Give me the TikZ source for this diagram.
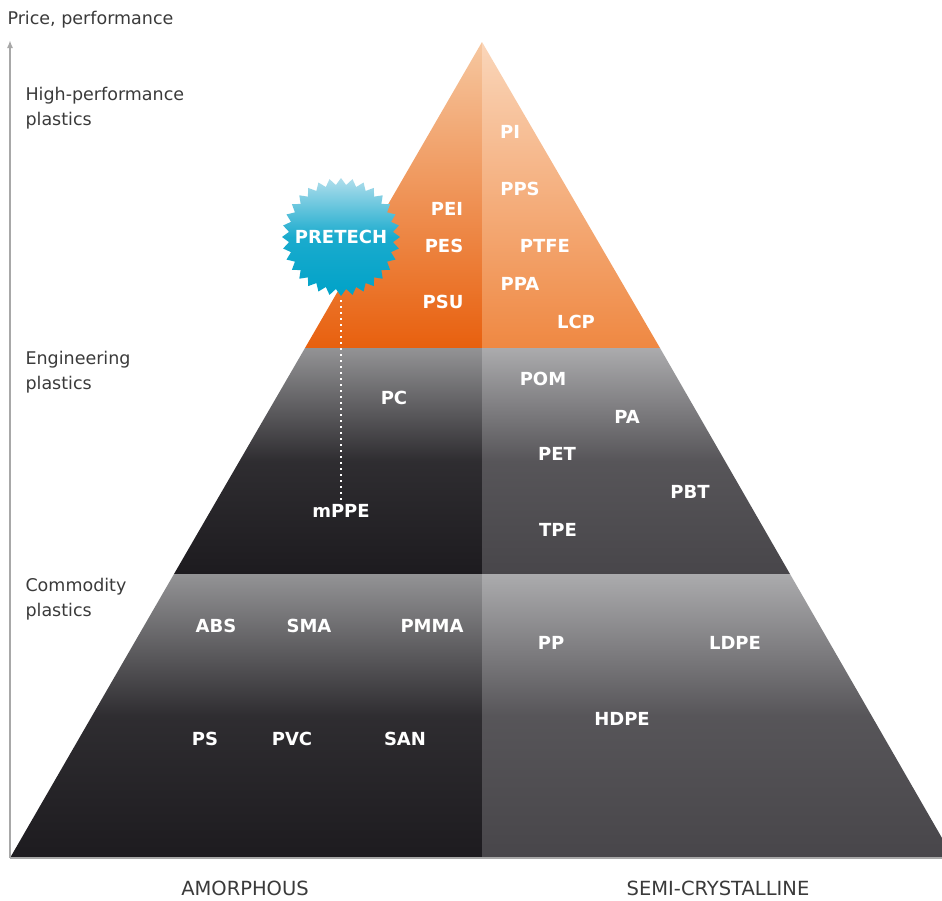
\documentclass[tikz,border=0pt]{standalone}
\usepackage{fontspec}
\setmainfont{DejaVu Sans}
\usetikzlibrary{arrows.meta,shapes.geometric}
\definecolor{orgLtop}{HTML}{F6C7A0}
\definecolor{orgLbot}{HTML}{E8600E}
\definecolor{orgRtop}{HTML}{FAD6BA}
\definecolor{orgRbot}{HTML}{EF8842}
\definecolor{grLtop}{HTML}{939395}
\definecolor{grLbot}{HTML}{1D1B1F}
\definecolor{grRtop}{HTML}{ABABAD}
\definecolor{grRbot}{HTML}{48464A}
\definecolor{starTop}{HTML}{B0DEEC}
\definecolor{starBot}{HTML}{00A2C8}
\definecolor{axisGray}{HTML}{A8A8A8}
\definecolor{textGray}{HTML}{3A3A3A}
\tikzset{
  lbl/.style={text=white,font=\bfseries\fontsize{18}{18}\selectfont},
  side/.style={text=textGray,font=\fontsize{17.5}{25}\selectfont,align=left,anchor=west},
  kind/.style={text=textGray,font=\fontsize{19.5}{20}\selectfont},
  darkL/.style={top color=grLtop,bottom color=grLbot,middle color=grLbot!85!grLtop},
  darkR/.style={top color=grRtop,bottom color=grRbot,middle color=grRbot!85!grRtop}
}

\begin{document}
\begin{tikzpicture}[x=1pt,y=-1pt]
    \useasboundingbox (0,0) rectangle (942,900);
    % tiers
    \shade[top color=orgLtop,bottom color=orgLbot] (482,42) -- (482,348) -- (305,348) -- cycle;
    \shade[top color=orgRtop,bottom color=orgRbot] (482,42) -- (660,348) -- (482,348) -- cycle;
    \shade[darkL] (305,348) -- (482,348) -- (482,574) -- (174,574) -- cycle;
    \shade[darkR] (482,348) -- (660,348) -- (790,574) -- (482,574) -- cycle;
    \shade[darkL] (174,574) -- (482,574) -- (482,858) -- (10,858) -- cycle;
    \shade[darkR] (482,574) -- (790,574) -- (942,838) -- (942,858) -- (482,858) -- cycle;

    % axis
    \coordinate (o) at (10,858);
    \coordinate (top) at (10,40);
    \coordinate (end) at (942,858);
    \draw[axisGray,line width=1.6pt,-{Latex[length=8pt,width=6pt]}] (o) -- (top);
    \draw[axisGray,line width=1.2pt] (o) -- (end);

    \node[side] (axis) at (4,20) {Price, performance};
    \node[side] (high) at (22,108) {High-performance\\plastics};
    \node[side] (eng) at (22,372) {Engineering\\plastics};
    \node[side] (com) at (22,599) {Commodity\\plastics};
    \node[kind] (amo) at (245,888) {AMORPHOUS};
    \node[kind] (semi) at (718,888) {SEMI-CRYSTALLINE};

    % high-performance
    \node[lbl] (pi) at (510,132) {PI};
    \node[lbl] (pps) at (520,189) {PPS};
    \node[lbl] (pei) at (447,209) {PEI};
    \node[lbl] (pes) at (444,246) {PES};
    \node[lbl] (ptfe) at (545,246) {PTFE};
    \node[lbl] (ppa) at (520,284) {PPA};
    \node[lbl] (psu) at (443,302) {PSU};
    \node[lbl] (lcp) at (576,322) {LCP};

    % engineering
    \node[lbl] (pom) at (543,379) {POM};
    \node[lbl] (pc) at (394,398) {PC};
    \node[lbl] (pa) at (627,417) {PA};
    \node[lbl] (pet) at (557,454) {PET};
    \node[lbl] (pbt) at (690,492) {PBT};
    \node[lbl] (mppe) at (341,511) {mPPE};
    \node[lbl] (tpe) at (558,530) {TPE};

    % commodity
    \node[lbl] (abs) at (216,626) {ABS};
    \node[lbl] (sma) at (309,626) {SMA};
    \node[lbl] (pmma) at (432,626) {PMMA};
    \node[lbl] (pp) at (551,643) {PP};
    \node[lbl] (ldpe) at (735,643) {LDPE};
    \node[lbl] (hdpe) at (622,719) {HDPE};
    \node[lbl] (ps) at (205,739) {PS};
    \node[lbl] (pvc) at (292,739) {PVC};
    \node[lbl] (san) at (405,739) {SAN};

    % pretech
    \node[star,star points=32,star point ratio=1.13,minimum size=118pt,inner sep=0pt,
          top color=starTop,bottom color=starBot,middle color=starBot!85!starTop] (pretech) at (341,237) {};
    \node[lbl] (pretxt) at (pretech.center) {PRETECH};
    \draw[white,line width=2pt,dash pattern=on 2pt off 4pt,shorten <=4pt] (pretech.south) -- (pretech.south |- mppe.north);
\end{tikzpicture}
\end{document}
